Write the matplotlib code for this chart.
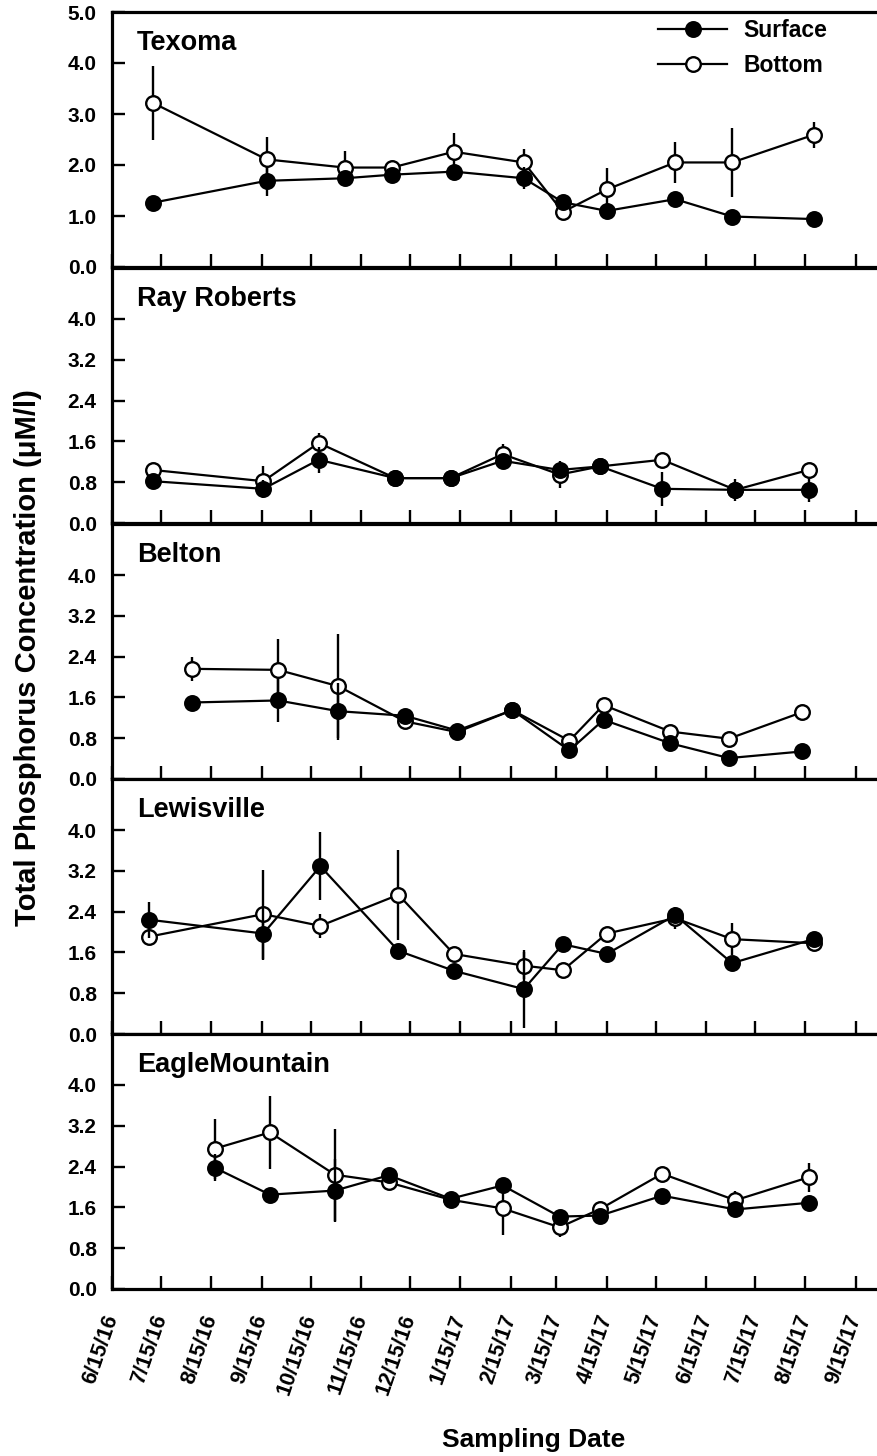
import numpy as np
import matplotlib
matplotlib.use('Agg')
import matplotlib.pyplot as plt
from matplotlib.lines import Line2D

plt.rcParams['font.family'] = ['Liberation Sans', 'DejaVu Sans']
plt.rcParams['font.weight'] = 'bold'

# ---------------- data ----------------
lakes = ['Texoma', 'Ray Roberts', 'Belton', 'Lewisville', 'EagleMountain']

texoma_dates = ['2016-07-10', '2016-09-18', '2016-11-05', '2016-12-04', '2017-01-11', '2017-02-23',
                '2017-03-19', '2017-04-15', '2017-05-27', '2017-07-01', '2017-08-20']
texoma_surface = [1.26, 1.69, 1.74, 1.81, 1.87, 1.74, 1.27, 1.10, 1.33, 0.99, 0.94]
texoma_surface_err = [0.05, 0.30, 0.08, 0.05, 0.08, 0.22, 0.05, 0.08, 0.05, 0.05, 0.05]
texoma_bottom = [3.22, 2.11, 1.95, 1.95, 2.26, 2.05, 1.08, 1.52, 2.05, 2.05, 2.59]
texoma_bottom_err = [0.72, 0.43, 0.33, 0.10, 0.37, 0.26, 0.10, 0.42, 0.41, 0.67, 0.26]

rayroberts_dates = ['2016-07-10', '2016-09-16', '2016-10-20', '2016-12-06', '2017-01-09', '2017-02-10',
                    '2017-03-17', '2017-04-11', '2017-05-19', '2017-07-03', '2017-08-17']
rayroberts_surface = [0.82, 0.67, 1.24, 0.88, 0.88, 1.22, 1.04, 1.11, 0.67, 0.65, 0.65]
rayroberts_surface_err = [0.05, 0.17, 0.26, 0.05, 0.05, 0.08, 0.08, 0.05, 0.33, 0.22, 0.23]
rayroberts_bottom = [1.04, 0.82, 1.57, 0.88, 0.88, 1.35, 0.95, 1.11, 1.24, 0.65, 1.04]
rayroberts_bottom_err = [0.05, 0.29, 0.19, 0.05, 0.05, 0.20, 0.26, 0.05, 0.05, 0.10, 0.10]

belton_dates = ['2016-08-03', '2016-09-25', '2016-11-01', '2016-12-12', '2017-01-13', '2017-02-16',
                '2017-03-23', '2017-04-13', '2017-05-24', '2017-06-29', '2017-08-13']
belton_surface = [1.50, 1.54, 1.33, 1.24, 0.95, 1.35, 0.56, 1.16, 0.70, 0.41, 0.54]
belton_surface_err = [0.05, 0.43, 0.56, 0.05, 0.05, 0.05, 0.05, 0.05, 0.05, 0.05, 0.05]
belton_bottom = [2.16, 2.14, 1.82, 1.13, 0.92, 1.35, 0.75, 1.45, 0.93, 0.79, 1.31]
belton_bottom_err = [0.24, 0.60, 1.02, 0.05, 0.05, 0.05, 0.05, 0.05, 0.05, 0.05, 0.05]

lewisville_dates = ['2016-07-08', '2016-09-16', '2016-10-21', '2016-12-08', '2017-01-11', '2017-02-23',
                    '2017-03-19', '2017-04-15', '2017-05-27', '2017-07-01', '2017-08-20']
lewisville_surface = [2.24, 1.97, 3.29, 1.63, 1.24, 0.88, 1.76, 1.57, 2.33, 1.39, 1.86]
lewisville_surface_err = [0.35, 0.51, 0.67, 0.05, 0.05, 0.77, 0.05, 0.05, 0.08, 0.05, 0.05]
lewisville_bottom = [1.91, 2.35, 2.12, 2.73, 1.57, 1.34, 1.25, 1.97, 2.27, 1.86, 1.78]
lewisville_bottom_err = [0.05, 0.87, 0.24, 0.88, 0.05, 0.27, 0.05, 0.05, 0.22, 0.32, 0.05]

eagle_dates = ['2016-08-17', '2016-09-20', '2016-10-30', '2016-12-02', '2017-01-09', '2017-02-10',
               '2017-03-17', '2017-04-11', '2017-05-19', '2017-07-03', '2017-08-17']
eagle_surface = [2.38, 1.85, 1.93, 2.23, 1.77, 2.03, 1.42, 1.44, 1.83, 1.56, 1.69]
eagle_surface_err = [0.27, 0.05, 0.62, 0.05, 0.05, 0.05, 0.05, 0.05, 0.05, 0.05, 0.05]
eagle_bottom = [2.75, 3.07, 2.24, 2.09, 1.75, 1.58, 1.21, 1.57, 2.26, 1.74, 2.19]
eagle_bottom_err = [0.59, 0.72, 0.90, 0.05, 0.05, 0.53, 0.20, 0.05, 0.05, 0.19, 0.28]

tick_dates = ['2016-06-15', '2016-07-15', '2016-08-15', '2016-09-15', '2016-10-15', '2016-11-15',
              '2016-12-15', '2017-01-15', '2017-02-15', '2017-03-15', '2017-04-15', '2017-05-15',
              '2017-06-15', '2017-07-15', '2017-08-15', '2017-09-15']
tick_labels = ['6/15/16', '7/15/16', '8/15/16', '9/15/16', '10/15/16', '11/15/16', '12/15/16',
               '1/15/17', '2/15/17', '3/15/17', '4/15/17', '5/15/17', '6/15/17', '7/15/17',
               '8/15/17', '9/15/17']

top_yticks = [0.0, 1.0, 2.0, 3.0, 4.0, 5.0]
other_yticks = [0.0, 0.8, 1.6, 2.4, 3.2, 4.0]

panels = [
    (texoma_dates, texoma_surface, texoma_surface_err, texoma_bottom, texoma_bottom_err),
    (rayroberts_dates, rayroberts_surface, rayroberts_surface_err, rayroberts_bottom, rayroberts_bottom_err),
    (belton_dates, belton_surface, belton_surface_err, belton_bottom, belton_bottom_err),
    (lewisville_dates, lewisville_surface, lewisville_surface_err, lewisville_bottom, lewisville_bottom_err),
    (eagle_dates, eagle_surface, eagle_surface_err, eagle_bottom, eagle_bottom_err),
]

# ---------------- figure ----------------
W, H = 878, 1456
fig = plt.figure(figsize=(W / 100, H / 100), dpi=100)

ax_left, ax_right = 112, 890          # pixel edges of the axes (right edge off the page)
panel_bottoms = [267, 523, 779, 1034, 1289]
panel_h = 255
xlim = (np.datetime64('2016-06-15'), np.datetime64('2017-10-06'))

to_dt = lambda lst: np.array(lst, dtype='datetime64[D]')

axes = []
for i, (name, (d, s, se, b, be)) in enumerate(zip(lakes, panels)):
    ax = fig.add_axes([ax_left / W, 1 - panel_bottoms[i] / H, (ax_right - ax_left) / W, panel_h / H])
    axes.append(ax)
    x = to_dt(d)
    ax.errorbar(x, b, yerr=be, fmt='-o', color='black', mfc='white', mec='black',
                ms=10.5, mew=1.7, lw=1.6, elinewidth=1.7, capsize=0, zorder=3)
    ax.errorbar(x, s, yerr=se, fmt='-o', color='black', mfc='black', mec='black',
                ms=10.5, mew=1.7, lw=1.6, elinewidth=1.7, capsize=0, zorder=4)

    ax.set_xlim(xlim)
    ax.set_ylim(0, 5)
    yt = top_yticks if i == 0 else other_yticks
    ax.set_yticks(yt)
    ax.set_yticklabels(['%.1f' % v for v in yt], fontsize=15, fontweight='bold')
    ax.set_xticks(to_dt(tick_dates))
    ax.tick_params(axis='both', direction='in', length=9.5, width=1.7, top=False, right=False)
    ax.tick_params(axis='y', pad=11)
    if i < len(lakes) - 1:
        ax.tick_params(axis='x', labelbottom=False)
    else:
        ax.set_xticklabels(tick_labels, rotation=71, ha='right', va='center',
                           rotation_mode='anchor', fontsize=15.5, fontweight='bold')
        ax.tick_params(axis='x', pad=19)

    for side in ['left', 'bottom', 'top']:
        ax.spines[side].set_linewidth(2.3)
    ax.spines['right'].set_visible(False)

    ax.annotate(name, xy=(0, 1), xycoords='axes fraction', xytext=(25, -18),
                textcoords='offset pixels', ha='left', va='top', fontsize=19.5, fontweight='bold')

# legend in the top panel
handles = [
    Line2D([], [], color='black', lw=1.6, marker='o', ms=10.5, mfc='black', mec='black', mew=1.7),
    Line2D([], [], color='black', lw=1.6, marker='o', ms=10.5, mfc='white', mec='black', mew=1.7),
]
axes[0].legend(handles, ['Surface', 'Bottom'], loc='upper left',
               bbox_to_anchor=(647 / W, 1 - 8 / H), bbox_transform=fig.transFigure,
               frameon=False, borderpad=0, handlelength=3.0, handletextpad=0.7,
               labelspacing=0.5, prop={'size': 16.5, 'weight': 'bold'})

fig.text(28 / W, 1 - 658 / H, 'Total Phosphorus Concentration (\u03bcM/l)', rotation=90,
         ha='center', va='center', fontsize=21, fontweight='bold')
fig.text(534 / W, 1 - 1440 / H, 'Sampling Date', ha='center', va='center',
         fontsize=19, fontweight='bold')

fig.savefig('out.png', dpi=100)
